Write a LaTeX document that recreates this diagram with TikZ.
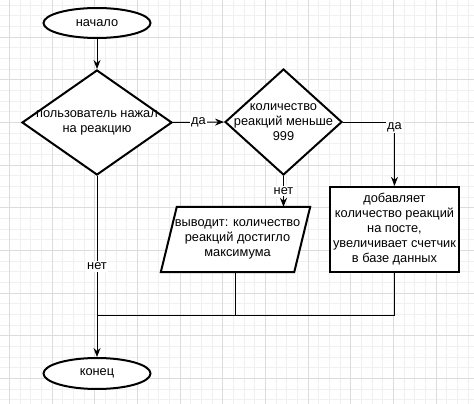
\documentclass[tikz,border=0pt]{standalone}
\usepackage{fontspec}
\setmainfont{Liberation Sans}
\usetikzlibrary{shapes.geometric,arrows.meta}
\definecolor{minorgrid}{HTML}{F0F0F0}
\definecolor{majorgrid}{HTML}{DCDCDC}
\begin{document}
\begin{tikzpicture}[x=1pt,y=-1pt,
  every node/.style={font=\fontsize{12.8}{15}\selectfont, align=center, inner sep=0pt},
  term/.style={ellipse, draw, line width=2pt, fill=white, minimum width=107pt, minimum height=30pt},
  decision/.style={diamond, draw, line width=2pt, fill=white},
  procbox/.style={rectangle, draw, line width=2.3pt, fill=white, minimum width=129pt, minimum height=85pt},
  outline/.style={draw, line width=2pt, fill=white, line join=miter},
  conn/.style={draw, line width=1pt},
  arr/.style={conn, -{Stealth[length=9pt,width=7pt,inset=3pt]}},
  lbl/.style={fill=white, inner sep=1.5pt},
  mgrid/.style={draw=minorgrid, line width=1pt},
  Mgrid/.style={draw=majorgrid, line width=1pt}]
\useasboundingbox (0,0) rectangle (474,404);
\fill[white] (0,0) rectangle (474,404);

% background grid
\foreach \i in {-1,...,44} \draw[mgrid] ({9.6+10.667*\i},0) -- ({9.6+10.667*\i},404);
\foreach \j in {-4,...,35} \draw[mgrid] (0,{37.3+10.667*\j}) -- (474,{37.3+10.667*\j});
\foreach \i in {0,...,11} \draw[Mgrid] ({9.6+42.667*\i},0) -- ({9.6+42.667*\i},404);
\foreach \j in {-1,...,8} \draw[Mgrid] (0,{37.3+42.667*\j}) -- (474,{37.3+42.667*\j});

% flowchart blocks
\node[term] (start) at (97,23) {начало};
\node[decision, minimum width=150pt, minimum height=105pt] (d1) at (97,122.5) {};
\node (t1) at (d1) {пользователь нажал\\на реакцию};
\node[decision, minimum width=117pt, minimum height=106pt] (d2) at (283.5,122) {};
\node (t2) at (d2) {количество\\реакций меньше\\999};
\node[procbox] (act) at (394.5,229.5) {добавляет\\количество реакций\\на посте,\\увеличивает счетчик\\в базе данных};
\node[minimum width=149pt, minimum height=65pt] (out) at (235.5,239.5) {};
\draw[outline] ([xshift=16pt]out.north west) -- (out.north east)
  -- ([xshift=-16pt]out.south east) -- (out.south west) -- cycle;
\node (t3) at ([xshift=2pt]out.center) {выводит: количество\\реакций достигло\\максимума};
\node[term, minimum height=31pt] (end) at (97,373.5) {конец};
\coordinate (j) at (97,315);

% connectors
\draw[arr] (start.south) -- (d1.north);
\draw[arr] (d1.east) -- node[lbl] {да} (d2.west);
\draw[arr] (d2.east) -| node[lbl, pos=0.54] {да} (act.north);
\draw[arr] (d2.south) -- node[lbl] {нет} (d2.south |- out.north);
\draw[arr] (d1.south) -- node[lbl] {нет} (end.north);
\draw[conn] (act.south) |- (j);
\draw[conn] (out.south) -- (out.south |- j);
\end{tikzpicture}
\end{document}
